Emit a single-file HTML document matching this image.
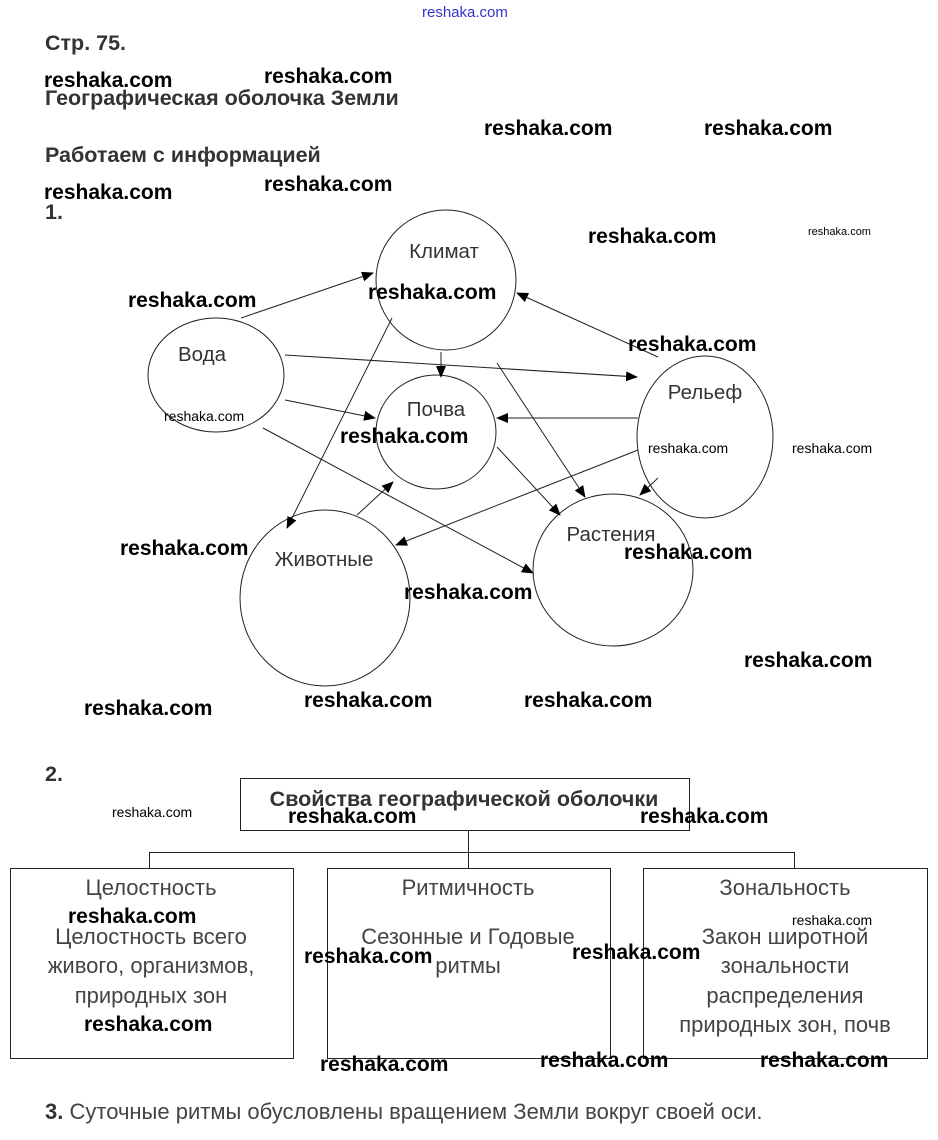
<!DOCTYPE html>
<html><head><meta charset="utf-8"><style>
html,body{margin:0;padding:0;background:#fff;}
svg{display:block;}
.wm{font-family:"Liberation Sans",sans-serif;font-size:21px;font-weight:bold;fill:#000;}
.wms{font-family:"Liberation Sans",sans-serif;font-size:14px;fill:#000;}
.h{font-family:"Liberation Sans",sans-serif;font-size:21.5px;font-weight:bold;fill:#333;}
.n{font-family:"Liberation Sans",sans-serif;font-size:20.5px;fill:#333;}
.t{font-family:"Liberation Sans",sans-serif;font-size:22px;fill:#444;}
</style></head><body>
<svg width="938" height="1140" viewBox="0 0 938 1140" xmlns="http://www.w3.org/2000/svg">
<defs><marker id="a" markerWidth="12" markerHeight="10" refX="11" refY="5" orient="auto" markerUnits="userSpaceOnUse"><path d="M0,0 L12,5 L0,10 z" fill="#000"/></marker></defs>
<text x="422" y="17" font-family="Liberation Sans,sans-serif" font-size="15" fill="#33c">reshaka.com</text>
<text x="45" y="50" class="h">Стр. 75.</text>
<text x="45" y="105" class="h">Географическая оболочка Земли</text>
<text x="45" y="162" class="h">Работаем с информацией</text>
<text x="45" y="219" class="h">1.</text>
<g fill="none" stroke="#222" stroke-width="1">
<ellipse cx="446" cy="280" rx="70" ry="70"/>
<ellipse cx="216" cy="375" rx="68" ry="57"/>
<ellipse cx="436" cy="432" rx="60" ry="57"/>
<ellipse cx="705" cy="437" rx="68" ry="81"/>
<ellipse cx="325" cy="598" rx="85" ry="88"/>
<ellipse cx="613" cy="570" rx="80" ry="76"/>
<g marker-end="url(#a)">
<line x1="241" y1="318" x2="373" y2="273"/>
<line x1="285" y1="355" x2="637" y2="377"/>
<line x1="285" y1="400" x2="375" y2="418"/>
<line x1="263" y1="428" x2="533" y2="573"/>
<line x1="441" y1="352" x2="441" y2="377"/>
<line x1="392" y1="318" x2="287" y2="528"/>
<line x1="497" y1="363" x2="585" y2="497"/>
<line x1="658" y1="357" x2="517" y2="293"/>
<line x1="638" y1="418" x2="497" y2="418"/>
<line x1="638" y1="450" x2="396" y2="545"/>
<line x1="658" y1="478" x2="640" y2="495"/>
<line x1="497" y1="447" x2="560" y2="515"/>
<line x1="357" y1="515" x2="393" y2="482"/>
</g>
</g>
<text x="444" y="258" class="n" text-anchor="middle">Климат</text>
<text x="202" y="361" class="n" text-anchor="middle">Вода</text>
<text x="436" y="416" class="n" text-anchor="middle">Почва</text>
<text x="705" y="399" class="n" text-anchor="middle">Рельеф</text>
<text x="324" y="566" class="n" text-anchor="middle">Животные</text>
<text x="611" y="541" class="n" text-anchor="middle">Растения</text>
<text x="45" y="781" class="h">2.</text>
<g fill="none" stroke="#222" stroke-width="1">
<rect x="240.5" y="778.5" width="449" height="52"/>
<path d="M468.5 831 V868 M149.5 868 V852.5 H794.5 V868"/>
<rect x="10.5" y="868.5" width="283" height="190"/>
<rect x="327.5" y="868.5" width="283" height="190"/>
<rect x="643.5" y="868.5" width="284" height="190"/>
</g>
<text x="464" y="806" class="h" font-size="22" text-anchor="middle">Свойства географической оболочки</text>
<g class="t" text-anchor="middle">
<text x="151" y="895">Целостность</text>
<text x="151" y="944">Целостность всего</text>
<text x="151" y="973">живого, организмов,</text>
<text x="151" y="1003">природных зон</text>
<text x="468" y="895">Ритмичность</text>
<text x="468" y="944">Сезонные и Годовые</text>
<text x="468" y="973">ритмы</text>
<text x="785" y="895">Зональность</text>
<text x="785" y="944">Закон широтной</text>
<text x="785" y="973">зональности</text>
<text x="785" y="1003">распределения</text>
<text x="785" y="1032">природных зон, почв</text>
</g>
<text x="45" y="1119" class="t"><tspan font-weight="bold" fill="#333">3.</tspan> Суточные ритмы обусловлены вращением Земли вокруг своей оси.</text>
<g class="wm">
<text x="44" y="87">reshaka.com</text>
<text x="264" y="83">reshaka.com</text>
<text x="484" y="135">reshaka.com</text>
<text x="704" y="135">reshaka.com</text>
<text x="44" y="199">reshaka.com</text>
<text x="264" y="191">reshaka.com</text>
<text x="588" y="243">reshaka.com</text>
<text x="128" y="307">reshaka.com</text>
<text x="368" y="299">reshaka.com</text>
<text x="628" y="351">reshaka.com</text>
<text x="340" y="443">reshaka.com</text>
<text x="120" y="555">reshaka.com</text>
<text x="624" y="559">reshaka.com</text>
<text x="404" y="599">reshaka.com</text>
<text x="744" y="667">reshaka.com</text>
<text x="84" y="715">reshaka.com</text>
<text x="304" y="707">reshaka.com</text>
<text x="524" y="707">reshaka.com</text>
<text x="288" y="823">reshaka.com</text>
<text x="640" y="823">reshaka.com</text>
<text x="68" y="923">reshaka.com</text>
<text x="304" y="963">reshaka.com</text>
<text x="572" y="959">reshaka.com</text>
<text x="84" y="1031">reshaka.com</text>
<text x="320" y="1071">reshaka.com</text>
<text x="540" y="1067">reshaka.com</text>
<text x="760" y="1067">reshaka.com</text>
</g>
<g class="wms">
<text x="808" y="235" font-size="11">reshaka.com</text>
<text x="164" y="421">reshaka.com</text>
<text x="648" y="453">reshaka.com</text>
<text x="792" y="453">reshaka.com</text>
<text x="112" y="817">reshaka.com</text>
<text x="792" y="925">reshaka.com</text>
</g>
</svg>
</body></html>
